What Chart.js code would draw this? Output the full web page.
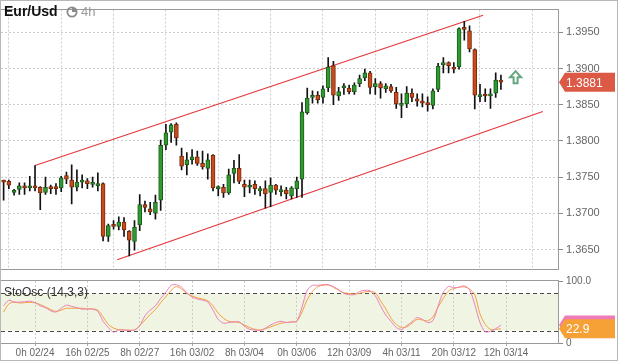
<!DOCTYPE html>
<html>
<head>
<meta charset="utf-8">
<script src="https://cdn.jsdelivr.net/npm/chart.js@4.4.1/dist/chart.umd.min.js"></script>
<style>
  html, body { margin: 0; padding: 0; background: #fff; }
  #wrap { position: relative; width: 618px; height: 363px; overflow: hidden; font-family: "Liberation Sans", Arial, sans-serif; background: #fff; }
  canvas { position: absolute; left: 0; }
  #main { top: 0; }
  #osc { top: 266px; }
  #outer { position: absolute; left: 0; top: 0; width: 616px; height: 359px; border: 1px solid #b8b8b8; pointer-events: none; }
  #title { position: absolute; left: 4px; top: 3px; font-size: 14px; font-weight: bold; color: #111; }
  #clock { position: absolute; left: 66px; top: 6px; }
  #tf { position: absolute; left: 81px; top: 4px; font-size: 13px; color: #9a9a9a; }
  #osclabel { position: absolute; left: 4px; top: 285px; font-size: 12px; color: #333; }
</style>
</head>
<body>
<div id="wrap">
  <canvas id="main" width="618" height="278"></canvas>
  <canvas id="osc" width="618" height="97"></canvas>
  <div id="outer"></div>
  <div id="title">Eur/Usd</div>
  <svg id="clock" width="12" height="12" viewBox="0 0 12 12">
    <circle cx="6" cy="6" r="4.6" fill="none" stroke="#8a8a8a" stroke-width="1.8"/>
    <path d="M6 6 L6 1.4 A4.6 4.6 0 0 1 10.6 6 Z" fill="#8a8a8a"/>
  </svg>
  <div id="tf">4h</div>
  <div id="osclabel">StoOsc (14,3,3)</div>
</div>
<script>
// 4h candles, EUR/USD
const opens  = [1.3745,1.3744,1.3729,1.3733,1.3738,1.3735,1.3738,1.3736,1.3729,1.3736,
                1.3736,1.3735,1.3752,1.3746,1.3736,1.3743,1.3745,1.3740,1.3738,1.3741,
                1.3668,1.3684,1.3682,1.3688,1.3675,1.3661,1.3684,1.3712,1.3706,1.3700,
                1.3718,1.3794,1.3812,1.3823,1.3779,1.3767,1.3774,1.3778,1.3769,1.3762,
                1.3780,1.3734,1.3736,1.3728,1.3755,1.3762,1.3740,1.3736,1.3740,1.3731,
                1.3734,1.3729,1.3739,1.3730,1.3732,1.3724,1.3734,1.3747,1.3839,1.3860,
                1.3863,1.3860,1.3873,1.3904,1.3862,1.3873,1.3873,1.3868,1.3879,1.3887,
                1.3894,1.3875,1.3879,1.3872,1.3875,1.3867,1.3849,1.3851,1.3866,1.3858,
                1.3855,1.3852,1.3849,1.3871,1.3905,1.3908,1.3902,1.3902,1.3956,1.3952,
                1.3926,1.3861,1.3864,1.3862,1.3866,1.3884];
const highs  = [1.3746,1.3746,1.3733,1.3742,1.3742,1.3751,1.3766,1.3737,1.3750,1.3739,
                1.3741,1.3751,1.3757,1.3767,1.3760,1.3753,1.3748,1.3750,1.3756,1.3742,
                1.3685,1.3690,1.3695,1.3694,1.3676,1.3690,1.3726,1.3717,1.3715,1.3725,
                1.3801,1.3823,1.3824,1.3825,1.3790,1.3784,1.3788,1.3786,1.3786,1.3782,
                1.3781,1.3738,1.3740,1.3761,1.3773,1.3781,1.3746,1.3746,1.3745,1.3737,
                1.3745,1.3749,1.3740,1.3738,1.3736,1.3737,1.3750,1.3853,1.3873,1.3869,
                1.3868,1.3876,1.3915,1.3910,1.3874,1.3879,1.3877,1.3880,1.3891,1.3899,
                1.3896,1.3886,1.3882,1.3879,1.3878,1.3874,1.3865,1.3875,1.3872,1.3865,
                1.3865,1.3861,1.3872,1.3907,1.3915,1.3909,1.3908,1.3956,1.3965,1.3959,
                1.3927,1.3878,1.3872,1.3872,1.3894,1.3891];
const lows   = [1.3718,1.3734,1.3725,1.3726,1.3726,1.3731,1.3731,1.3705,1.3726,1.3727,
                1.3726,1.3730,1.3741,1.3713,1.3731,1.3735,1.3734,1.3736,1.3731,1.3662,
                1.3661,1.3678,1.3677,1.3668,1.3641,1.3649,1.3676,1.3702,1.3698,1.3692,
                1.3704,1.3788,1.3798,1.3794,1.3760,1.3753,1.3768,1.3766,1.3761,1.3747,
                1.3731,1.3724,1.3722,1.3726,1.3742,1.3741,1.3723,1.3728,1.3726,1.3724,
                1.3707,1.3709,1.3726,1.3724,1.3720,1.3720,1.3722,1.3722,1.3837,1.3852,
                1.3852,1.3852,1.3868,1.3850,1.3856,1.3864,1.3865,1.3864,1.3875,1.3883,
                1.3865,1.3864,1.3859,1.3867,1.3867,1.3845,1.3832,1.3846,1.3854,1.3848,
                1.3847,1.3841,1.3844,1.3868,1.3894,1.3894,1.3894,1.3899,1.3939,1.3923,
                1.3844,1.3854,1.3854,1.3845,1.3860,1.3871];
const closes = [1.3743,1.3739,1.3731,1.3738,1.3735,1.3738,1.3735,1.3728,1.3736,1.3734,
                1.3734,1.3749,1.3747,1.3736,1.3743,1.3746,1.3741,1.3742,1.3741,1.3668,
                1.3683,1.3682,1.3688,1.3677,1.3663,1.3681,1.3712,1.3708,1.3702,1.3715,
                1.3794,1.3811,1.3822,1.3804,1.3765,1.3774,1.3778,1.3769,1.3764,1.3774,
                1.3735,1.3736,1.3728,1.3753,1.3762,1.3744,1.3736,1.3738,1.3734,1.3734,
                1.3727,1.3739,1.3732,1.3732,1.3727,1.3735,1.3745,1.3840,1.3859,1.3863,
                1.3857,1.3872,1.3902,1.3863,1.3868,1.3876,1.3868,1.3877,1.3886,1.3894,
                1.3874,1.3879,1.3873,1.3876,1.3869,1.3851,1.3851,1.3866,1.3860,1.3855,
                1.3852,1.3850,1.3869,1.3903,1.3908,1.3904,1.3899,1.3955,1.3954,1.3927,
                1.3863,1.3864,1.3862,1.3865,1.3884,1.3881];

// stochastic (14,3,3): %K pink, %D orange
const stochK = [60,69,66,66,66.5,67.5,65,60,57,52, 50,56,61,59,57,54.5,55,54.5,51,35,
                25,17.5,21,21,20,21,28,44,53,60, 72,82,93,94,90,81,74,71,69,66,
                53,38,32,33,34,34,27,22,21,20, 24,29,33,35,33,34,35,58,85,93,
                93,94,94,91,86,80,78,78,83,85, 84,76,60,45,35,25,22,28,34,41,
                38,33,36,60,82,91,89,90,92,86, 62,33,18,19,23,29];
const stochD = [50,63,66,64.5,65,65.5,65,62,58,54, 51,53,56,56,56,56,55,55,53,42,
                30,24,21.5,21,21,21,28,37,46,54, 65,75,85,91,87,80,76,73,71,68,
                60,48,40,35,34,33,29,25,22,21, 23,26,29,32,33,34,35,50,70,83,
                91,93,93.5,90,85,81,80,79,80,82.5, 83,81,68,55,40,30,25,26,32,38,
                37,36,42,58,72,84,88,90,90.5,87, 78,47,30,22,22,22.9];

// trend channel end points (bar index, price)
const channelUpper = [{ x: 6.0, y: 1.3766 }, { x: 91.6, y: 1.39735 }];
const channelLower = [{ x: 21.7, y: 1.36358 }, { x: 103.0, y: 1.38405 }];

const tickBars   = [6, 16, 26, 36, 46, 56, 66, 76, 86, 96];
const tickLabels = ['0h 02/24', '16h 02/25', '8h 02/27', '16h 03/02', '8h 03/04',
                    '0h 03/06', '12h 03/09', '4h 03/11', '20h 03/12', '12h 03/14'];
const priceTicks = [1.3650, 1.3700, 1.3750, 1.3800, 1.3850, 1.3900, 1.3950];
const oscTicks   = [0, 100];
const oscBands   = [20, 80];

const signalBar = 97.8, signalPrice = 1.3888;

const X_MIN = -0.5, X_MAX = 105.9;
const UP = '#2f9a2f', UP_EDGE = '#1c5c1c', DOWN = '#c94a1c', DOWN_EDGE = '#7c2a0c';
const GRID = '#cdcdcd';

const idx = closes.map((_, i) => i);
const isUp = idx.map(i => closes[i] >= opens[i]);

function drawTag(ctx, x, y, w, h, color, text) {
  ctx.save();
  ctx.beginPath();
  ctx.moveTo(x, y);
  ctx.lineTo(x + 6, y - h / 2);
  ctx.lineTo(x + w, y - h / 2);
  ctx.lineTo(x + w, y + h / 2);
  ctx.lineTo(x + 6, y + h / 2);
  ctx.closePath();
  ctx.fillStyle = color;
  ctx.fill();
  if (text) {
    ctx.fillStyle = '#fff';
    ctx.font = '12px "Liberation Sans", Arial, sans-serif';
    ctx.textBaseline = 'middle';
    ctx.fillText(text, x + 7, y + 1);
  }
  ctx.restore();
}

const frame = {
  id: 'frame',
  afterDraw(chart) {
    const { ctx, chartArea: a } = chart;
    ctx.save();
    ctx.strokeStyle = '#9a9a9a';
    ctx.lineWidth = 1;
    ctx.strokeRect(Math.round(a.left) - 0.5, Math.round(a.top) - 0.5,
                   Math.round(a.right - a.left) + 1, Math.round(a.bottom - a.top) + 1);
    ctx.restore();
  }
};

const priceTag = {
  id: 'priceTag',
  afterDraw(chart) {
    const last = closes[closes.length - 1];
    const y = chart.scales.y.getPixelForValue(last);
    drawTag(chart.ctx, chart.chartArea.right + 1, y, 56, 19, '#dc5a45', last.toFixed(4));
  }
};

const signalArrow = {
  id: 'signalArrow',
  afterDatasetsDraw(chart) {
    const ctx = chart.ctx;
    const cx = chart.scales.x.getPixelForValue(signalBar);
    const cy = chart.scales.y.getPixelForValue(signalPrice);
    ctx.save();
    ctx.beginPath();
    ctx.moveTo(cx, cy - 6);
    ctx.lineTo(cx + 5.5, cy);
    ctx.lineTo(cx + 2, cy);
    ctx.lineTo(cx + 2, cy + 6);
    ctx.lineTo(cx - 2, cy + 6);
    ctx.lineTo(cx - 2, cy);
    ctx.lineTo(cx - 5.5, cy);
    ctx.closePath();
    ctx.fillStyle = '#fff';
    ctx.fill();
    ctx.lineWidth = 2;
    ctx.strokeStyle = '#64a67f';
    ctx.stroke();
    ctx.restore();
  }
};

const bandFill = {
  id: 'bandFill',
  beforeDraw(chart) {
    const { ctx, chartArea: a, scales: { y } } = chart;
    const yTop = y.getPixelForValue(oscBands[1]), yBot = y.getPixelForValue(oscBands[0]);
    ctx.save();
    ctx.fillStyle = '#f0f4e2';
    ctx.fillRect(a.left, yTop, a.right - a.left, yBot - yTop);
    ctx.restore();
  },
  beforeDatasetsDraw(chart) {
    const { ctx, chartArea: a, scales: { y } } = chart;
    ctx.save();
    ctx.strokeStyle = '#4a4a4a';
    ctx.lineWidth = 1;
    ctx.setLineDash([4, 3]);
    oscBands.forEach(v => {
      const py = Math.round(y.getPixelForValue(v)) + 0.5;
      ctx.beginPath();
      ctx.moveTo(a.left, py);
      ctx.lineTo(a.right, py);
      ctx.stroke();
    });
    ctx.restore();
  }
};

const oscTags = {
  id: 'oscTags',
  afterDraw(chart) {
    const y = chart.scales.y;
    const x = chart.chartArea.right + 1;
    const k = stochK[stochK.length - 1], d = stochD[stochD.length - 1];
    drawTag(chart.ctx, x, y.getPixelForValue(k), 56, 19, '#ee7cb8', null);
    drawTag(chart.ctx, x, y.getPixelForValue(d), 56, 19, '#f6a135', d.toFixed(1));
  }
};

const font = '"Liberation Sans", Arial, sans-serif';

new Chart(document.getElementById('main'), {
  type: 'bar',
  data: {
    datasets: [
      { type: 'line', data: channelUpper, borderColor: '#e3373b', borderWidth: 1.2, pointRadius: 0, order: 3 },
      { type: 'line', data: channelLower, borderColor: '#e3373b', borderWidth: 1.2, pointRadius: 0, order: 3 },
      {
        data: idx.map(i => ({ x: i, y: [lows[i], highs[i]] })),
        backgroundColor: '#111', barThickness: 1, grouped: false, order: 2
      },
      {
        data: idx.map(i => ({ x: i, y: [opens[i], closes[i]] })),
        backgroundColor: idx.map(i => isUp[i] ? UP : DOWN),
        borderColor: idx.map(i => isUp[i] ? UP_EDGE : DOWN_EDGE),
        borderWidth: 1, borderSkipped: false, barThickness: 4, minBarLength: 2,
        grouped: false, order: 1
      }
    ]
  },
  options: {
    responsive: false,
    animation: false,
    layout: { padding: { left: 1, top: 1, right: 0, bottom: 3 } },
    plugins: { legend: { display: false }, tooltip: { enabled: false } },
    scales: {
      x: {
        type: 'linear', min: X_MIN, max: X_MAX, offset: false,
        afterBuildTicks: s => { s.ticks = tickBars.map(v => ({ value: v })); },
        afterFit: s => { s.height = 0; },
        ticks: { display: false },
        grid: { color: GRID, drawTicks: false },
        border: { display: false, dash: [2, 2] }
      },
      y: {
        position: 'right', min: 1.36239, max: 1.39813,
        afterBuildTicks: s => { s.ticks = priceTicks.map(v => ({ value: v })); },
        afterFit: s => { s.width = 60; },
        ticks: { callback: v => v.toFixed(4), color: '#666', font: { family: font, size: 11 }, padding: 3 },
        grid: { color: GRID, tickColor: '#8a8a8a', tickLength: 5 },
        border: { display: false, dash: [2, 2] }
      }
    }
  },
  plugins: [frame, priceTag, signalArrow]
});

new Chart(document.getElementById('osc'), {
  type: 'line',
  data: {
    datasets: [
      { data: idx.map(i => ({ x: i, y: stochK[i] })), borderColor: '#ec80bd', borderWidth: 1, pointRadius: 0, tension: 0.3 },
      { data: idx.map(i => ({ x: i, y: stochD[i] })), borderColor: '#f5a13a', borderWidth: 1, pointRadius: 0, tension: 0.3 }
    ]
  },
  options: {
    responsive: false,
    animation: false,
    layout: { padding: { left: 1, top: 15, right: 0, bottom: 0 } },
    plugins: { legend: { display: false }, tooltip: { enabled: false } },
    scales: {
      x: {
        type: 'linear', min: X_MIN, max: X_MAX, offset: false,
        afterBuildTicks: s => { s.ticks = tickBars.map(v => ({ value: v })); },
        afterFit: s => { s.height = 20; },
        ticks: {
          callback: v => tickLabels[tickBars.indexOf(v)],
          color: '#666', font: { family: font, size: 10 }, maxRotation: 0, autoSkip: false, padding: 1
        },
        grid: { color: GRID, tickColor: '#aaa', tickLength: 3 },
        border: { display: false, dash: [2, 2] }
      },
      y: {
        position: 'right', min: 0, max: 100,
        afterBuildTicks: s => { s.ticks = oscTicks.map(v => ({ value: v })); },
        afterFit: s => { s.width = 60; },
        ticks: { callback: v => v === 100 ? '100.0' : '0', color: '#666', font: { family: font, size: 10 }, padding: 3 },
        grid: { drawOnChartArea: false, tickColor: '#8a8a8a', tickLength: 5 },
        border: { display: false }
      }
    }
  },
  plugins: [bandFill, frame, oscTags]
});
</script>
</body>
</html>
